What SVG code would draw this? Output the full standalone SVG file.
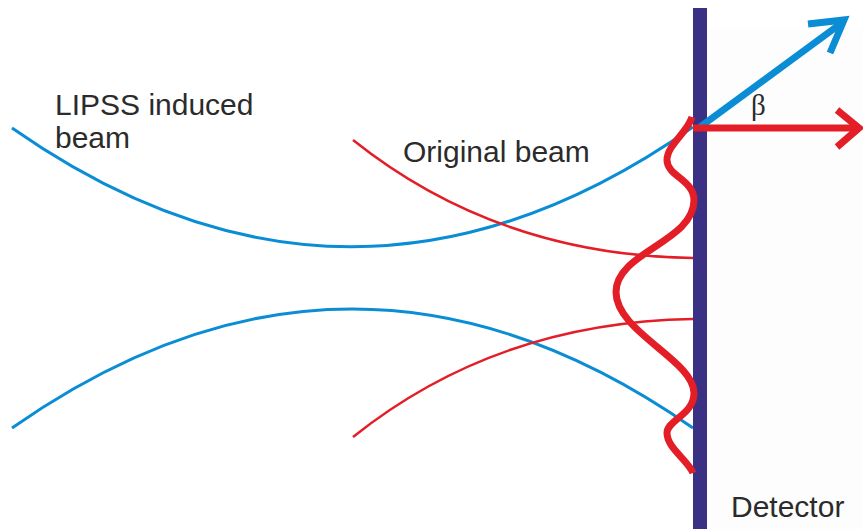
<svg xmlns="http://www.w3.org/2000/svg" width="863" height="529" viewBox="0 0 863 529">
<style>
.lbl{font-family:"Liberation Sans",Arial,sans-serif;font-size:30px;fill:#2b2b2b}
.blue{fill:none;stroke:#0a8dd5;stroke-width:3}
.red{fill:none;stroke:#e31e26;stroke-width:2.5}
.arrowB{fill:none;stroke:#0a8dd5;stroke-width:7}
.arrowR{fill:none;stroke:#e31e26;stroke-width:7}
</style>
<rect width="863" height="529" fill="#ffffff"/>
<rect x="707" y="28" width="156" height="501" fill="#fdfdfd"/>
<g id="connectors">
  <path id="blue-upper" class="blue" d="M12,128 Q352,366 693,127"/>
  <path id="blue-lower" class="blue" d="M12,428 Q352,190 693,428"/>
  <path id="red-upper" class="red" d="M353,140 Q497,255 693,258"/>
  <path id="red-lower" class="red" d="M353,437 Q497,322 693,319"/>
</g>
<g id="detector">
  <rect x="693" y="8" width="14" height="521" fill="#3a3185"/>
  <text class="lbl" x="731" y="517">Detector</text>
</g>
<g id="intensity-profile">
  <path fill="none" stroke="#e31e26" stroke-width="7" d="M692,117 C688,132 667,145 667,160 C667,176 694,180 694,200 C694,242 616,252 616,292 C616,332 694,360 694,393 C694,415 667,420 667,433 C667,448 688,460 693,473"/>
</g>
<g id="blue-arrow">
  <line class="arrowB" x1="700" y1="127" x2="843" y2="22"/>
  <polyline class="arrowB" points="808,24 844,20 830,53"/>
</g>
<g id="red-arrow">
  <line class="arrowR" x1="693" y1="128" x2="858" y2="128"/>
  <polyline class="arrowR" points="837,110 859,128 837,147"/>
</g>
<g id="beta">
  <text x="751" y="115" font-family="Liberation Serif,'Times New Roman',serif" font-size="29" fill="#2b2b2b">β</text>
</g>
<g id="lipss-label">
  <text class="lbl" x="55" y="115">LIPSS induced</text>
  <text class="lbl" x="55" y="148">beam</text>
</g>
<g id="original-label">
  <text class="lbl" x="403" y="162">Original beam</text>
</g>
</svg>
